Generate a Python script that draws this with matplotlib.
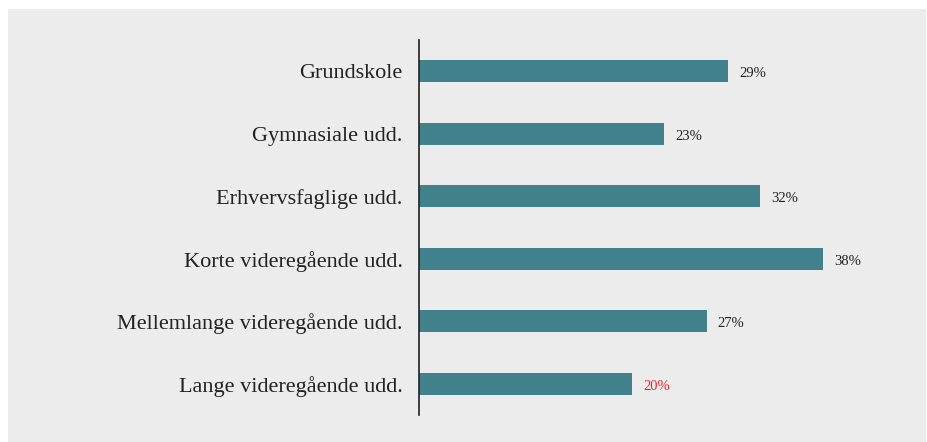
import matplotlib.pyplot as plt

categories = ["Grundskole", "Gymnasiale udd.", "Erhvervsfaglige udd.",
              "Korte videregående udd.", "Mellemlange videregående udd.",
              "Lange videregående udd."]
values = [29, 23, 32, 38, 27, 20]
label_colors = ["#222222"] * 5 + ["#e8262a"]

plt.rcParams['font.family'] = ['Liberation Serif', 'DejaVu Serif']

fig = plt.figure(figsize=(9.28, 4.42), dpi=100, facecolor="white")

# gray panel behind the chart
bg = fig.add_axes([8 / 928, 0, 918 / 928, 433 / 442], zorder=0)
bg.set_facecolor("#ececec")
bg.set_xticks([])
bg.set_yticks([])
for s in bg.spines.values():
    s.set_visible(False)

ax = fig.add_axes([419.5 / 928, 27 / 442, (900 - 419.5) / 928, 375 / 442], zorder=1)
ax.set_facecolor("none")

ypos = list(range(len(categories)))
ax.barh(ypos, values, height=0.35, color="#41818b")

for y, v, c in zip(ypos, values, label_colors):
    ax.text(v + 1.05, y + 0.04, f"{v}%", va="center", ha="left", fontsize=10.5, color=c)

ax.set_yticks(ypos)
ax.set_yticklabels(categories, fontsize=16, color="#222222")
ax.tick_params(axis="y", length=0, pad=12)
ax.set_ylim(5.5, -0.5)
ax.set_xlim(0, 45.2)
ax.set_xticks([])

for s in ["top", "right", "bottom"]:
    ax.spines[s].set_visible(False)
ax.spines["left"].set_color("#222222")
ax.spines["left"].set_linewidth(1.2)

fig.savefig("out.png", dpi=100, facecolor=fig.get_facecolor())
